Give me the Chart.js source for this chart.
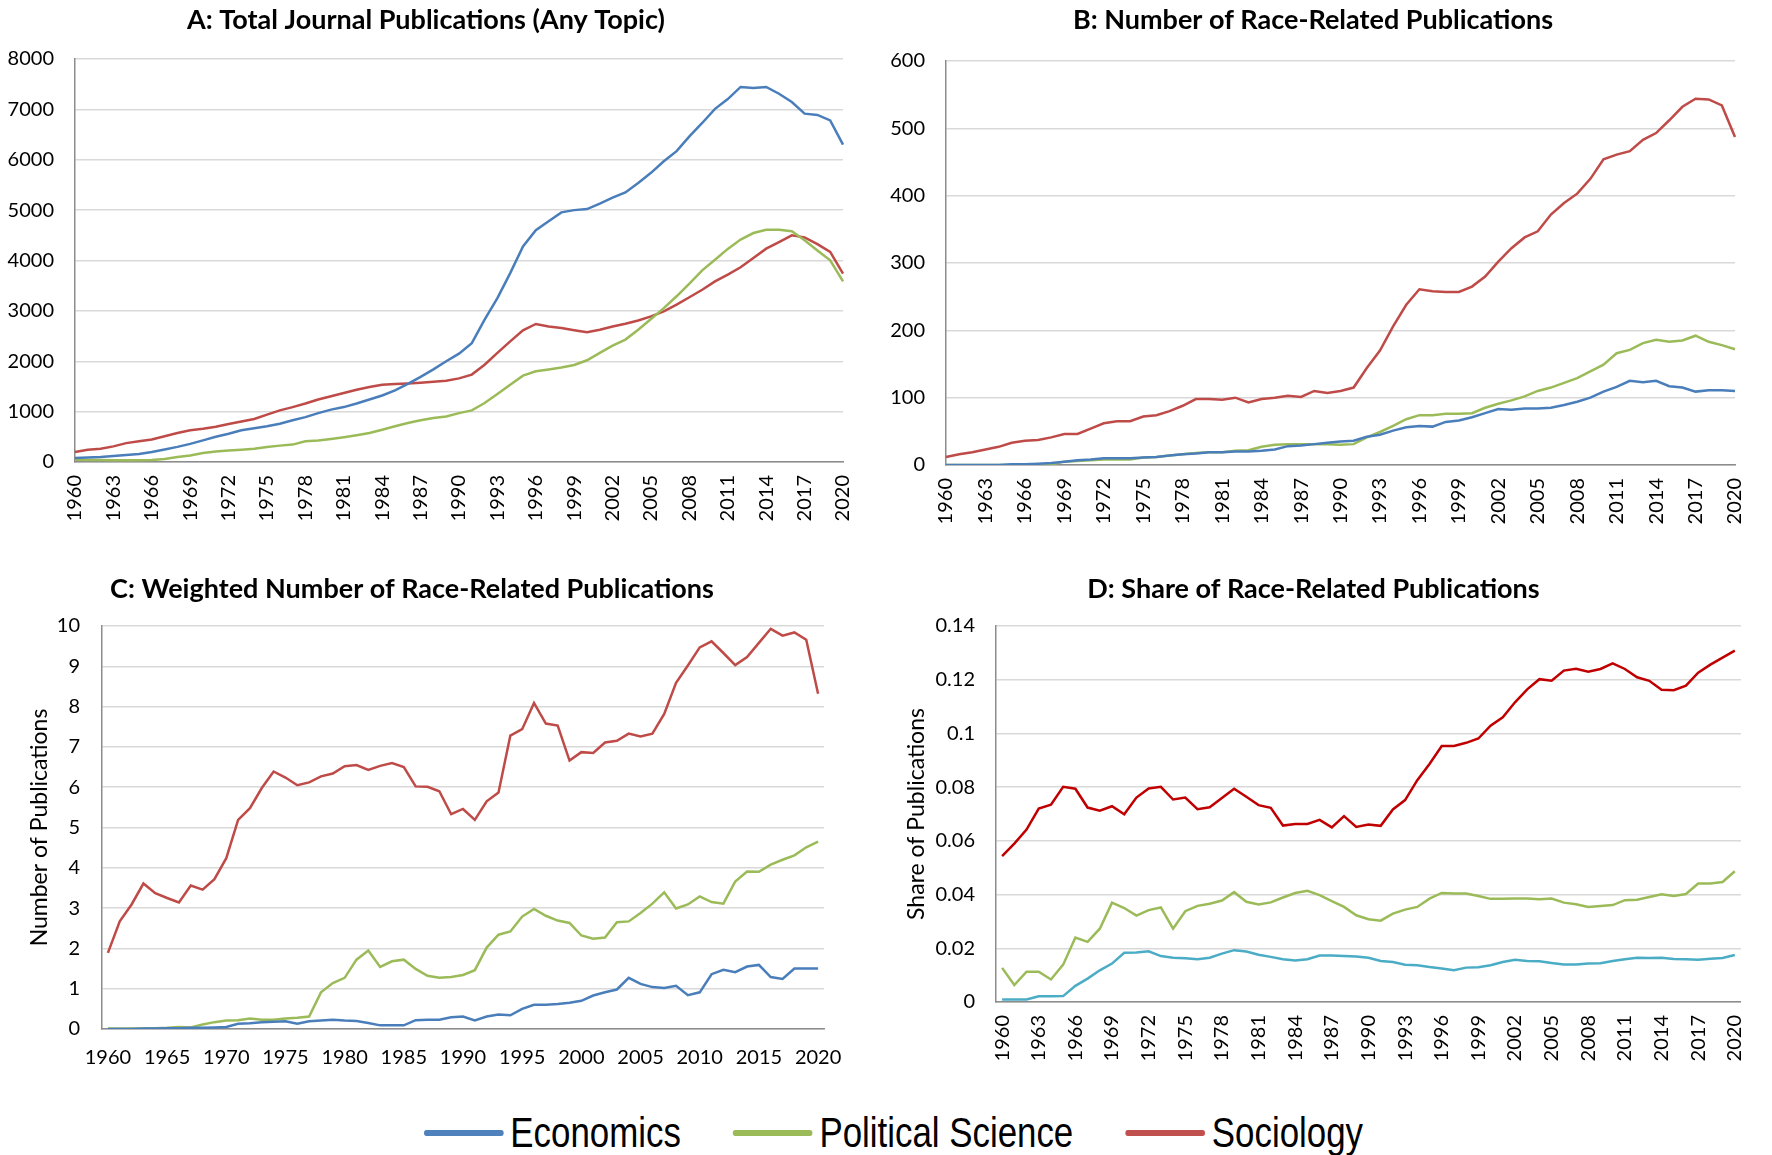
<!DOCTYPE html>
<html lang="en">

<head>
    <meta charset="UTF-8">
    <title>Race-related publications by discipline</title>
    <script src="https://cdn.jsdelivr.net/npm/chart.js@4.4.1/dist/chart.umd.min.js"></script>
    <style>
        body {
            margin: 0;
            background: #fff;
            width: 1772px;
            height: 1155px;
            position: relative;
            overflow: hidden;
        }

        canvas {
            position: absolute;
        }

        .legend {
            position: absolute;
            left: 424px;
            top: 1108px;
            height: 50px;
            display: flex;
            align-items: center;
            gap: 63px;
            font-family: "Liberation Sans", sans-serif;
            font-size: 42px;
            color: #000;
            transform: scaleX(0.83);
            transform-origin: left center;
        }

        .legend .item {
            display: flex;
            align-items: center;
        }

        .legend .swatch {
            width: 96px;
            height: 6px;
            border-radius: 3px;
            margin-right: 8px;
        }
    </style>
</head>

<body>
    <canvas id="chartA" width="880" height="530" style="left:0;top:0"></canvas>
    <canvas id="chartB" width="892" height="530" style="left:880px;top:0"></canvas>
    <canvas id="chartC" width="880" height="560" style="left:0;top:545px"></canvas>
    <canvas id="chartD" width="892" height="560" style="left:880px;top:545px"></canvas>
    <div class="legend" id="legend"></div>

    <script>
        const years = Array.from({ length: 61 }, (_, i) => String(1960 + i));
        const seriesNames = ['Economics', 'Political Science', 'Sociology'];

        // A: total journal publications
        const totalEcon = [80, 90, 100, 120, 140, 160, 200, 250, 300, 360,
            430, 500, 560, 630, 670, 710, 760, 830, 890, 970,
            1040, 1090, 1160, 1240, 1320, 1420, 1550, 1690, 1840, 2000,
            2150, 2360, 2825, 3255, 3750, 4280, 4600, 4780, 4955, 5000,
            5020, 5130, 5250, 5350, 5540, 5740, 5970, 6170, 6465, 6730,
            7010, 7205, 7445, 7425, 7445, 7310, 7145, 6915, 6890, 6780, 6300];
        const totalPolsci = [45, 40, 38, 36, 35, 35, 38, 60, 100, 130,
            180, 210, 230, 245, 265, 300, 325, 345, 410, 425,
            455, 490, 530, 575, 640, 710, 775, 830, 875, 905,
            970, 1025, 1170, 1350, 1535, 1715, 1800, 1835, 1875, 1925,
            2020, 2165, 2310, 2430, 2625, 2840, 3055, 3290, 3540, 3805,
            4015, 4230, 4415, 4545, 4610, 4610, 4580, 4400, 4200, 4005, 3585];
        const totalSoc = [200, 245, 265, 310, 375, 410, 445, 510, 575, 630,
            660, 700, 755, 805, 855, 940, 1025, 1090, 1160, 1240,
            1305, 1370, 1435, 1490, 1535, 1550, 1560, 1575, 1595, 1615,
            1660, 1735, 1930, 2165, 2395, 2615, 2740, 2690, 2660, 2615,
            2575, 2625, 2690, 2745, 2810, 2890, 2990, 3125, 3270, 3420,
            3585, 3720, 3865, 4050, 4235, 4365, 4500, 4460, 4325, 4170, 3740];

        // B: number of race-related publications
        const raceEcon = [0, 0, 0, 0, 0, 1, 1, 2, 3, 5,
            7, 8, 10, 10, 10, 11, 12, 14, 16, 17,
            19, 19, 20, 20, 21, 23, 28, 29, 31, 33,
            35, 36, 42, 45, 51, 56, 58, 57, 64, 66,
            71, 77, 83, 82, 84, 84, 85, 89, 94, 100,
            109, 116, 125, 123, 125, 117, 115, 109, 111, 111, 110];
        const racePolsci = [0, 0, 0, 0, 0, 0, 1, 1, 1, 5,
            6, 7, 8, 8, 8, 11, 12, 14, 16, 18,
            19, 19, 21, 22, 27, 30, 31, 31, 31, 31,
            30, 31, 41, 49, 58, 68, 74, 74, 76, 76,
            77, 85, 91, 96, 102, 110, 115, 122, 129, 139,
            149, 166, 171, 181, 186, 183, 185, 192, 183, 178, 172];
        const raceSoc = [12, 16, 19, 23, 27, 33, 36, 37, 41, 46,
            46, 54, 62, 65, 65, 72, 74, 80, 88, 98,
            98, 97, 100, 93, 98, 100, 103, 101, 110, 107,
            110, 115, 144, 170, 206, 238, 261, 258, 257, 257,
            265, 280, 302, 322, 338, 347, 372, 389, 403, 425,
            454, 461, 466, 483, 493, 512, 532, 544, 543, 534, 487];

        // C: weighted number of race-related publications
        const weightedEcon = [0.00, 0.00, 0.00, 0.01, 0.01, 0.02, 0.02, 0.03, 0.03, 0.04,
            0.05, 0.13, 0.14, 0.17, 0.18, 0.19, 0.13, 0.19, 0.21, 0.23,
            0.21, 0.20, 0.15, 0.09, 0.09, 0.09, 0.22, 0.23, 0.23, 0.29,
            0.31, 0.21, 0.31, 0.36, 0.34, 0.50, 0.60, 0.60, 0.62, 0.65,
            0.70, 0.83, 0.91, 0.98, 1.27, 1.12, 1.04, 1.02, 1.07, 0.84,
            0.91, 1.36, 1.47, 1.41, 1.55, 1.59, 1.29, 1.24, 1.50, 1.50, 1.50];
        const weightedPolsci = [0.01, 0.01, 0.01, 0.01, 0.02, 0.03, 0.05, 0.04, 0.11, 0.17,
            0.21, 0.22, 0.26, 0.23, 0.23, 0.26, 0.28, 0.31, 0.91, 1.14,
            1.27, 1.72, 1.95, 1.54, 1.68, 1.72, 1.49, 1.32, 1.27, 1.29,
            1.34, 1.46, 2.02, 2.34, 2.42, 2.79, 2.98, 2.81, 2.69, 2.63,
            2.32, 2.24, 2.27, 2.65, 2.67, 2.88, 3.11, 3.39, 2.99, 3.09,
            3.29, 3.15, 3.11, 3.66, 3.91, 3.90, 4.08, 4.20, 4.31, 4.51, 4.65];
        const weightedSoc = [1.89, 2.67, 3.09, 3.61, 3.37, 3.25, 3.14, 3.56, 3.46, 3.72,
            4.24, 5.19, 5.48, 5.98, 6.39, 6.24, 6.05, 6.12, 6.27, 6.34,
            6.52, 6.55, 6.43, 6.53, 6.60, 6.50, 6.02, 6.01, 5.90, 5.33,
            5.46, 5.19, 5.65, 5.87, 7.28, 7.44, 8.09, 7.58, 7.53, 6.66,
            6.87, 6.85, 7.11, 7.15, 7.33, 7.26, 7.33, 7.82, 8.59, 9.02,
            9.47, 9.62, 9.33, 9.03, 9.23, 9.58, 9.93, 9.76, 9.84, 9.66, 8.32];

        // D: share of race-related publications
        const shareEcon = [0.0009, 0.0009, 0.0009, 0.0021, 0.0021, 0.0022, 0.0060, 0.0087, 0.0118, 0.0143,
            0.0183, 0.0184, 0.0189, 0.0171, 0.0165, 0.0163, 0.0159, 0.0165, 0.0180, 0.0193,
            0.0188, 0.0176, 0.0168, 0.0159, 0.0155, 0.0159, 0.0173, 0.0173, 0.0171, 0.0169,
            0.0165, 0.0153, 0.0149, 0.0139, 0.0137, 0.0130, 0.0125, 0.0118, 0.0128, 0.0129,
            0.0137, 0.0149, 0.0157, 0.0153, 0.0152, 0.0145, 0.0140, 0.0140, 0.0143, 0.0144,
            0.0153, 0.0159, 0.0165, 0.0164, 0.0165, 0.0160, 0.0159, 0.0157, 0.0161, 0.0164, 0.0175];
        const sharePolsci = [0.0127, 0.0063, 0.0113, 0.0113, 0.0084, 0.0139, 0.0240, 0.0224, 0.0273, 0.0370,
            0.0350, 0.0322, 0.0342, 0.0352, 0.0273, 0.0338, 0.0358, 0.0366, 0.0378, 0.0409,
            0.0373, 0.0363, 0.0371, 0.0389, 0.0406, 0.0414, 0.0398, 0.0376, 0.0354, 0.0323,
            0.0308, 0.0303, 0.0329, 0.0344, 0.0354, 0.0385, 0.0406, 0.0404, 0.0404, 0.0395,
            0.0384, 0.0384, 0.0385, 0.0385, 0.0383, 0.0385, 0.0370, 0.0364, 0.0354, 0.0357,
            0.0361, 0.0379, 0.0381, 0.0391, 0.0401, 0.0395, 0.0402, 0.0441, 0.0441, 0.0447, 0.0487];
        const shareSoc = [0.0543, 0.0590, 0.0642, 0.0720, 0.0735, 0.0801, 0.0794, 0.0724, 0.0712, 0.0729,
            0.0699, 0.0761, 0.0795, 0.0801, 0.0754, 0.0761, 0.0718, 0.0725, 0.0760, 0.0794,
            0.0764, 0.0733, 0.0723, 0.0657, 0.0663, 0.0663, 0.0678, 0.0650, 0.0692, 0.0652,
            0.0661, 0.0656, 0.0717, 0.0752, 0.0826, 0.0886, 0.0953, 0.0953, 0.0965, 0.0981,
            0.1029, 0.1060, 0.1116, 0.1164, 0.1202, 0.1196, 0.1234, 0.1241, 0.1230, 0.1240,
            0.1261, 0.1240, 0.1209, 0.1196, 0.1163, 0.1161, 0.1178, 0.1226, 0.1256, 0.1282, 0.1308];

        const colors = ['#4a7ebb', '#9bbb59', '#be4b48'];
        const colorsD = ['#4bacc6', '#9bbb59', '#c00000'];

        Chart.defaults.font.family = "Lato, 'Open Sans', sans-serif";
        Chart.defaults.color = '#000';

        function make_panel(id, p) {
            let ctx = document.getElementById(id).getContext('2d');
            return new Chart(ctx, {
                type: 'line',
                data: {
                    labels: years,
                    datasets: p.series.map((d, i) => ({
                        label: seriesNames[i],
                        data: d,
                        borderColor: p.colors[i],
                        backgroundColor: p.colors[i],
                        borderWidth: 2.5,
                        pointRadius: 0,
                        tension: 0
                    }))
                },
                options: {
                    responsive: false,
                    animation: false,
                    layout: { padding: { left: 0, right: p.right, top: 0, bottom: 0 } },
                    plugins: {
                        legend: { display: false },
                        tooltip: { enabled: false },
                        title: {
                            display: true,
                            text: p.title,
                            font: { size: 27, weight: 'bold' },
                            color: '#000',
                            padding: { top: p.titleTop, bottom: p.titleBottom }
                        }
                    },
                    scales: {
                        x: {
                            offset: p.offset,
                            grid: { display: false, drawTicks: false },
                            border: { display: true, color: '#8c8c8c', width: 1.5 },
                            ticks: {
                                autoSkip: false,
                                maxRotation: p.rotate ? 90 : 0,
                                minRotation: p.rotate ? 90 : 0,
                                padding: p.xPad,
                                font: { size: 20 },
                                callback: function (v, i) {
                                    return i % p.every === 0 ? years[i] : '';
                                }
                            },
                            afterFit: s => { s.height = p.xHeight; }
                        },
                        y: {
                            min: 0,
                            max: p.max,
                            grid: { color: '#d9d9d9', lineWidth: 1.5, drawTicks: false },
                            border: { display: true, color: '#8c8c8c', width: 1.5 },
                            ticks: {
                                stepSize: p.step,
                                padding: p.yPad,
                                font: { size: 20 },
                                callback: v => String(Number(v.toFixed(2)))
                            },
                            title: p.yTitle ? {
                                display: true,
                                text: p.yTitle,
                                font: { size: 23 },
                                padding: { top: p.yTitlePad, bottom: 0 }
                            } : { display: false },
                            afterFit: s => { s.width = p.yWidth; }
                        }
                    }
                }
            });
        }

        make_panel('chartA', {
            title: 'A: Total Journal Publications (Any Topic)',
            series: [totalEcon, totalPolsci, totalSoc], colors: colors,
            max: 8000, step: 1000, yWidth: 75, yPad: 21, right: 28,
            titleTop: 3.8, titleBottom: 22.8, xHeight: 68, xPad: 13,
            rotate: true, every: 3, offset: false
        });

        make_panel('chartB', {
            title: 'B: Number of Race-Related Publications',
            series: [raceEcon, racePolsci, raceSoc], colors: colors,
            max: 600, step: 100, yWidth: 66, yPad: 21, right: 26,
            titleTop: 3.8, titleBottom: 24.8, xHeight: 65, xPad: 13,
            rotate: true, every: 3, offset: false
        });

        make_panel('chartC', {
            title: 'C: Weighted Number of Race-Related Publications',
            series: [weightedEcon, weightedPolsci, weightedSoc], colors: colors,
            max: 10, step: 1, yWidth: 102, yPad: 22, right: 56,
            titleTop: 27.8, titleBottom: 20.8, xHeight: 76, xPad: 17,
            rotate: false, every: 5, offset: true,
            yTitle: 'Number of Publications', yTitlePad: 26
        });

        make_panel('chartD', {
            title: 'D: Share of Race-Related Publications',
            series: [shareEcon, sharePolsci, shareSoc], colors: colorsD,
            max: 0.14, step: 0.02, yWidth: 116, yPad: 21, right: 25,
            titleTop: 27.8, titleBottom: 20.8, xHeight: 103, xPad: 13,
            rotate: true, every: 3, offset: true,
            yTitle: 'Share of Publications', yTitlePad: 23
        });

        // shared legend under the four panels
        let legend = document.getElementById('legend');
        seriesNames.forEach((name, i) => {
            let item = document.createElement('div');
            item.className = 'item';
            let swatch = document.createElement('span');
            swatch.className = 'swatch';
            swatch.style.background = ['#4f81bd', '#9bbb59', '#c0504d'][i];
            let label = document.createElement('span');
            label.textContent = name;
            item.appendChild(swatch);
            item.appendChild(label);
            legend.appendChild(item);
        });
    </script>
</body>

</html>
